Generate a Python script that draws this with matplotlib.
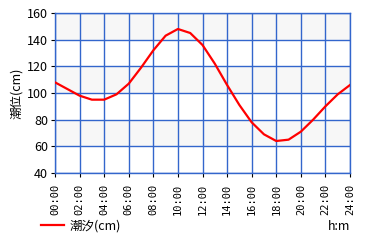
import matplotlib
matplotlib.use("Agg")
import matplotlib.pyplot as plt
from matplotlib.lines import Line2D

plt.rcParams['font.family'] = ['Noto Sans CJK JP', 'DejaVu Sans']

hours = list(range(25))
tide = [108, 103, 98, 95, 95, 99, 107, 119, 132, 143, 148, 145, 136, 122, 106,
        91, 78, 69, 64, 65, 71, 80, 90, 99, 106]
xticks = list(range(0, 25, 2))
xticklabels = ["%02d:00" % h for h in xticks]
yticks = [40, 60, 80, 100, 120, 140, 160]
series_label = "潮汐(cm)"
ylabel = "潮位(cm)"
xunit = "h:m"

fig = plt.figure(figsize=(3.8, 2.4), dpi=100)
ax = fig.add_axes([55/380, 1-173/240, 295/380, 160/240])

ax.axhspan(140, 160, color='#f7f7f7', zorder=0, lw=0)
ax.axhspan(100, 120, color='#f7f7f7', zorder=0, lw=0)
ax.axhspan(60, 80, color='#f7f7f7', zorder=0, lw=0)

grid_c = '#3366cc'
ax.set_xlim(0, 24)
ax.set_ylim(40, 160)
ax.set_xticks(xticks)
ax.set_xticklabels(xticklabels, rotation=90, fontsize=7.5,
                   family=['DejaVu Sans Mono', 'DejaVu Sans'])
ax.set_yticks(yticks)
ax.set_yticklabels([str(v) for v in yticks], fontsize=9)
ax.grid(True, color=grid_c, lw=1.0, zorder=1)
for s in ax.spines.values():
    s.set_color(grid_c)
    s.set_linewidth(1.0)
ax.tick_params(axis='both', length=3, width=0.8, color='black', pad=2)
ax.tick_params(axis='x', pad=5)

ax.plot(hours, tide, color='#ff0000', lw=1.6, zorder=3)
ax.set_ylabel(ylabel, fontsize=9, labelpad=3)

fig.legend(handles=[Line2D([0], [0], color='#ff0000', lw=1.6)], labels=[series_label],
           loc='lower left', bbox_to_anchor=(33/380, 0.0), frameon=False,
           fontsize=9, handlelength=1.9, handletextpad=0.4, borderaxespad=0.2)
fig.text(350/380, 1-227/240, xunit, fontsize=9, ha='right', va='center')

fig.savefig("out.png", dpi=100)
